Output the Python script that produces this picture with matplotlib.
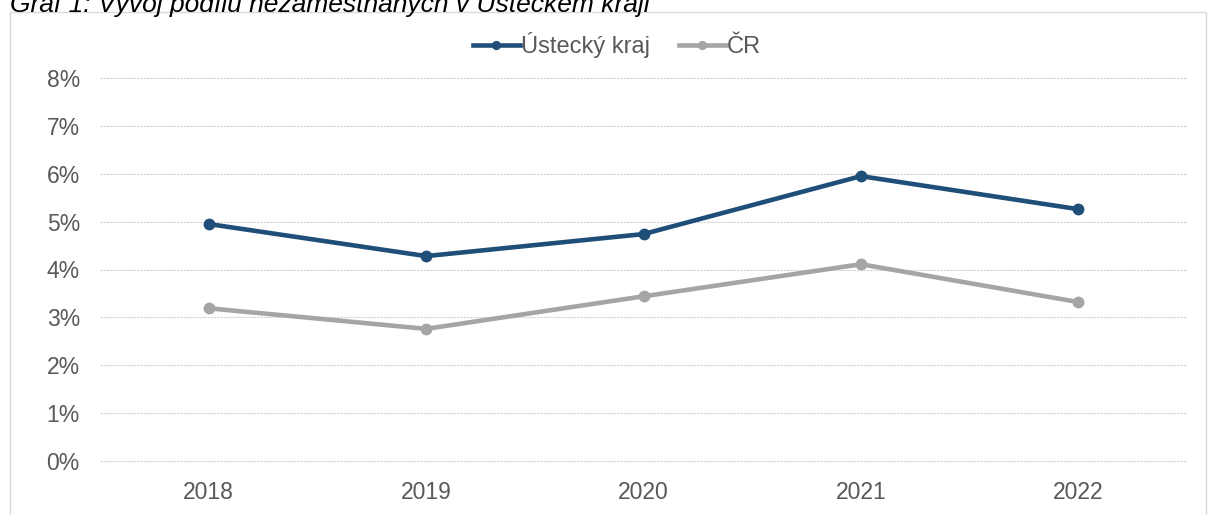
#!/usr/bin/env python3
import matplotlib
matplotlib.use("Agg")
import matplotlib.pyplot as plt
from matplotlib.patches import Rectangle
from matplotlib.ticker import PercentFormatter

roky = ["2018", "2019", "2020", "2021", "2022"]
ustecky_kraj = [4.95, 4.28, 4.74, 5.95, 5.26]
cr = [3.19, 2.76, 3.44, 4.11, 3.32]
y_ticks = [0, 1, 2, 3, 4, 5, 6, 7, 8]

c_blue = "#1F4E79"
c_gray = "#A5A5A5"
c_text = "#595959"

plt.rcParams["font.family"] = ["Liberation Sans", "DejaVu Sans"]

fig = plt.figure(figsize=(12.09, 5.15), dpi=100)

# outer chart frame
fig.patches.append(Rectangle((10 / 1209, -0.01), 1196 / 1209, 1 - 12 / 515 + 0.01,
                             transform=fig.transFigure, fill=False,
                             edgecolor="#D9D9D9", linewidth=1))

fig.text(10 / 1209, 1 - 12 / 515, "Graf 1: Vývoj podílu nezaměstnaných v Ústeckém kraji",
         fontsize=19, style="italic", color="#000000", va="baseline", ha="left")

ax = fig.add_axes([100 / 1209, 1 - 461 / 515, 1087 / 1209, 383 / 515])
x = list(range(len(roky)))
ax.plot(x, ustecky_kraj, color=c_blue, lw=3.3, marker="o", ms=7.5, label="Ústecký kraj", zorder=3)
ax.plot(x, cr, color=c_gray, lw=3.3, marker="o", ms=7.5, label="ČR", zorder=3)

ax.set_xlim(-0.5, len(roky) - 0.5)
ax.set_ylim(0, 8)
ax.set_yticks(y_ticks)
ax.yaxis.set_major_formatter(PercentFormatter(decimals=0))
ax.set_xticks(x)
ax.set_xticklabels(roky)
ax.grid(axis="y", color="#D0D0D0", linestyle=(0, (2, 1)), linewidth=0.8, zorder=0)
for gl in ax.get_ygridlines():
    gl.set_clip_on(False)
ax.tick_params(length=0, labelsize=16.5, colors=c_text)
ax.tick_params(axis="y", pad=14.5)
ax.tick_params(axis="x", pad=14.5)
for s in ax.spines.values():
    s.set_visible(False)

leg = ax.legend(loc="center", bbox_to_anchor=(617 / 1209, 1 - 45 / 515),
                bbox_transform=fig.transFigure, ncol=2, frameon=False,
                prop={"family": ["Liberation Sans Narrow", "Liberation Sans"], "size": 17},
                handlelength=2.0, handletextpad=0.05, columnspacing=1.2,
                markerscale=0.75, labelcolor=c_text)

fig.savefig("out.png", dpi=100)
